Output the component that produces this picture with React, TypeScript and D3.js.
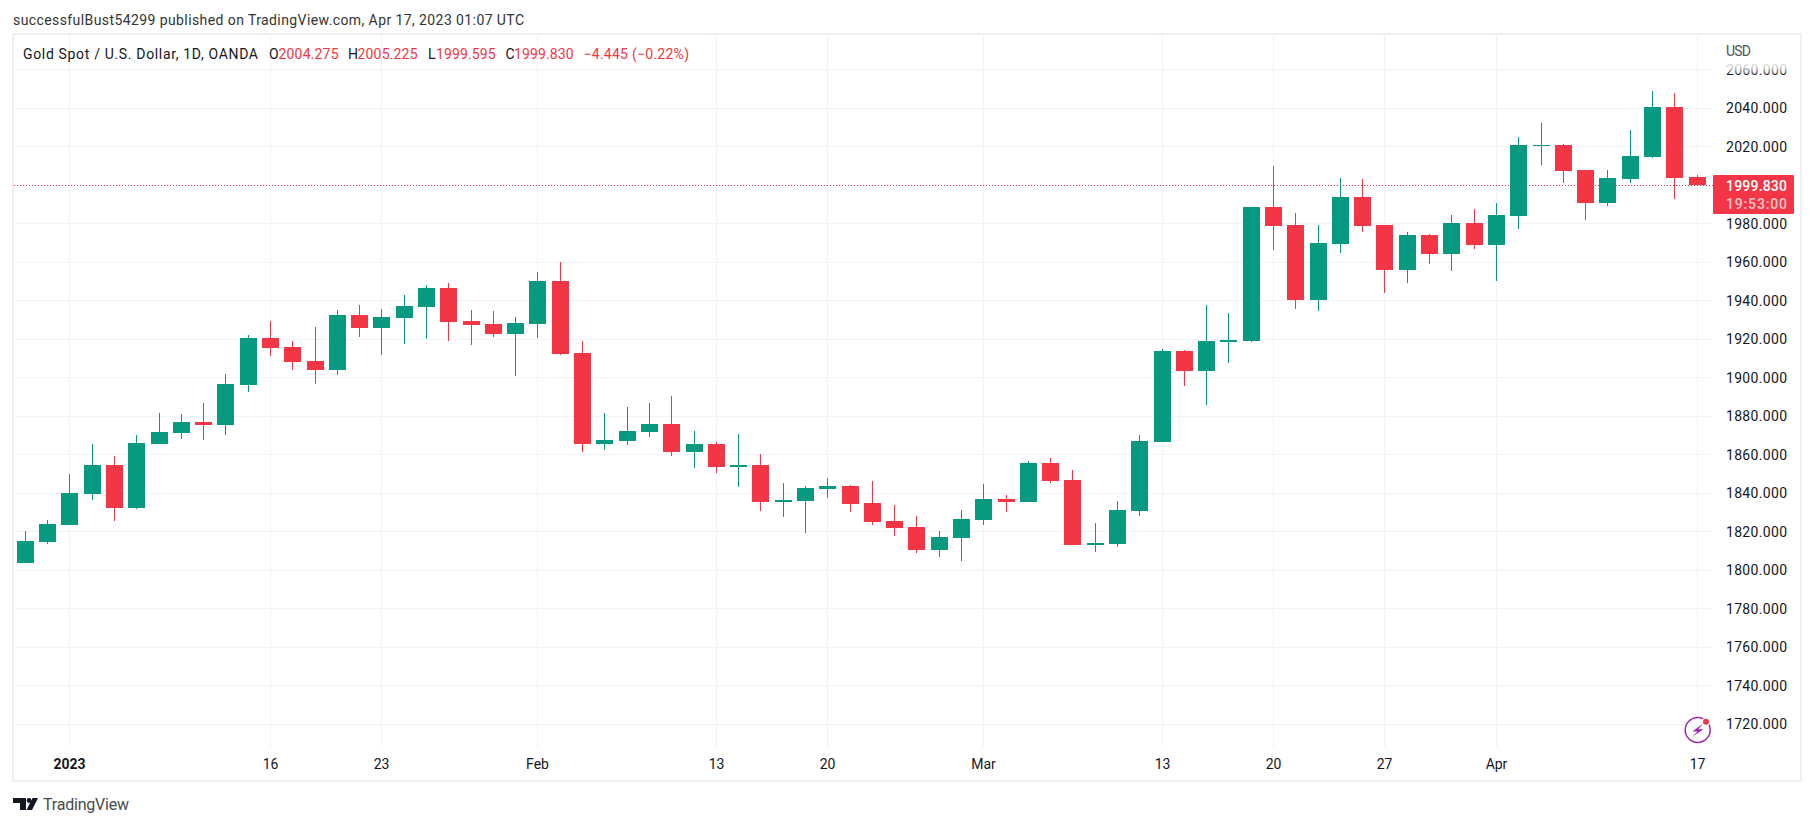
import React from "react";
import * as d3 from "d3";

const opens = [1803.8,1814.7,1823.5,1839.6,1854.7,1832.3,1865.6,1871.3,1877,1875.4,1896.2,1920.6,1915.9,1908.7,1904,1932.5,1925.8,1931,1936.7,1946.6,1929.4,1927.9,1922.7,1927.9,1950.2,1912.8,1865.6,1867.1,1871.8,1876,1861.4,1865.6,1853.6,1854.7,1835.5,1836,1842.2,1843.8,1835,1825.6,1822.5,1810.5,1816.7,1826.1,1837,1835.4,1855.7,1846.8,1813.1,1813.6,1830.7,1866.6,1913.8,1903.4,1918.5,1919,1988.6,1979.3,1940.3,1969.4,1993.8,1979.3,1955.9,1974,1964.2,1980.3,1968.9,1984,2020.3,2020.9,2007.9,1990.7,2003.2,2014.6,2040.6,2004.275];
const highs = [1820.4,1826.1,1850,1865.6,1859.3,1870.2,1881.7,1881.1,1886.9,1901.9,1922.2,1929.4,1919,1926.3,1935.1,1937.7,1935.7,1942.9,1948.1,1949.2,1935.2,1934.6,1931.5,1954.9,1960.1,1919,1881.7,1884.8,1886.9,1890.5,1872.3,1866.6,1870.8,1860.4,1845.3,1843.8,1847.9,1844.3,1846.4,1833.9,1828.2,1820.4,1831.3,1844.8,1839,1856.7,1858.3,1852,1824.5,1835.9,1870.2,1914.9,1914.3,1937.7,1933.5,1988.6,2009.9,1985.5,1979.3,2003.7,2003.2,1979.3,1975.6,1974.6,1984.5,1987.6,1990.7,2025,2032.3,2021.4,2007.9,2007.9,2028.6,2048.9,2047.9,2005.225];
const lows = [1803.8,1813.6,1823.5,1836.5,1825.6,1831.8,1865.6,1868.2,1867.6,1870.2,1892.6,1911.3,1904,1896.7,1901.4,1921.1,1911.8,1917.5,1920.1,1919,1917,1921.1,1900.9,1920.6,1911.8,1861.4,1862.5,1865.1,1869.2,1859.3,1853.1,1850.5,1843.3,1830.8,1827.7,1819.4,1837.5,1830.3,1823.5,1817.8,1809,1806.9,1804.8,1823.5,1830.2,1835.4,1845.3,1813.1,1809.4,1812,1828.2,1866.6,1895.6,1885.8,1907.6,1918.5,1966.3,1935.7,1934.6,1964.7,1975.6,1943.9,1949.2,1959,1955.4,1966.8,1950.2,1977.2,2010.5,2001.1,1981.9,1989.2,2001.1,2014.1,1992.8,1999.595];
const closes = [1815.2,1824,1840.1,1854.7,1832.3,1866.1,1871.8,1877,1875.4,1896.7,1920.6,1915.4,1908.1,1904,1932.5,1925.8,1931.5,1937.2,1946.6,1928.9,1927.4,1922.7,1928.4,1950.2,1912.3,1865.6,1867.7,1872.3,1876,1861.4,1865.6,1853.6,1854.7,1835.5,1836.5,1842.7,1843.8,1834.4,1825.1,1822,1810.5,1817.3,1826.6,1837,1835.4,1855.7,1846.3,1813.1,1814.1,1831.3,1867.1,1913.8,1903.4,1919,1919.5,1988.6,1978.7,1940.3,1969.9,1993.8,1978.7,1955.9,1974,1964.2,1980.3,1968.9,1984.5,2020.9,2020.9,2007.4,1990.7,2003.7,2015.1,2040.6,2003.7,1999.83];

const priceTicks = [1720,1740,1760,1780,1800,1820,1840,1860,1880,1900,1920,1940,1960,1980,2000,2020,2040,2060];
const hiddenPriceLabels = [2000];
const timeTickIndex = [2,11,16,23,31,36,43,51,56,61,66,75];
const timeTickLabel = ["2023","16","23","Feb","13","20","Mar","13","20","27","Apr","17"];
const lastPrice = 1999.83;

const UP = "#089981";
const DOWN = "#F23645";
const GRID = "#F0F3FA";
const FRAME = "#EFEFF5";
const FONT = "Roboto, sans-serif";
const TEXT = "#131722";

const x = d3.scaleLinear().domain([0, 75]).range([25.3, 1697.05]);
const y = d3.scaleLinear().domain([1720, 2060]).range([724.2, 69.5]);
const col = (i: number) => Math.floor(x(i)) + 0.5;

const legend: [number, string, string, number][] = [
  [23, "Gold Spot / U.S. Dollar, 1D, OANDA", TEXT, 235],
  [269, "O", TEXT, 9],
  [278.5, "2004.275", DOWN, 60],
  [348, "H", TEXT, 9],
  [357.5, "2005.225", DOWN, 60],
  [428, "L", TEXT, 7.5],
  [436, "1999.595", DOWN, 59.5],
  [505.5, "C", TEXT, 8.5],
  [514, "1999.830", DOWN, 59.5],
  [583.5, "\u22124.445 (\u22120.22%)", DOWN, 105.5],
];

export default function App() {
  return (
    <svg
      width={1813}
      height={826}
      style={{ position: "fixed", left: 0, top: 0, display: "block", background: "#fff" }}
      fontFamily={FONT}
    >
      <defs>
        <linearGradient id="fade" x1="0" y1="0" x2="0" y2="1">
          <stop offset="0" stopColor="#fff" stopOpacity="1" />
          <stop offset="0.6" stopColor="#fff" stopOpacity="0.75" />
          <stop offset="1" stopColor="#fff" stopOpacity="0.15" />
        </linearGradient>
      </defs>
      <text x={13} y={25} fontSize={14} fill="#333" textLength={511}>
        successfulBust54299 published on TradingView.com, Apr 17, 2023 01:07 UTC
      </text>
      <rect x={13} y={34.3} width={1787.5} height={747} fill="none" stroke={FRAME} strokeWidth={2} shapeRendering="crispEdges" />

      <g shapeRendering="crispEdges" stroke={GRID}>
        {priceTicks.map((p) => (
          <line key={p} x1={14} x2={1713} y1={Math.floor(y(p)) + 0.5} y2={Math.floor(y(p)) + 0.5} />
        ))}
        {timeTickIndex.map((i) => (
          <line key={i} x1={col(i)} x2={col(i)} y1={35} y2={747} />
        ))}
      </g>

      <line x1={14} x2={1713} y1={Math.floor(y(lastPrice)) + 0.5} y2={Math.floor(y(lastPrice)) + 0.5} stroke={DOWN} strokeDasharray="1 2" shapeRendering="crispEdges" />

      <g shapeRendering="crispEdges">
        {opens.map((o, i) => {
          const c = closes[i];
          const color = c >= o ? UP : DOWN;
          const top = Math.round(y(Math.max(o, c)));
          const bottom = Math.round(y(Math.min(o, c)));
          return (
            <g key={i} fill={color}>
              <rect x={col(i) - 0.5} width={1} y={Math.round(y(highs[i]))} height={Math.max(0, Math.round(y(lows[i])) - Math.round(y(highs[i])))} />
              <rect x={col(i) - 8.5} width={17} y={top} height={Math.max(1, bottom - top)} />
            </g>
          );
        })}
      </g>

      {legend.map(([lx, t, c, w], i) => (
        <text key={i} x={lx} y={59} fontSize={14} fill={c} textLength={w}>{t}</text>
      ))}

      <g fontSize={14} fill={TEXT} textAnchor="end">
        {priceTicks.filter((p) => !hiddenPriceLabels.includes(p)).map((p) => (
          <text key={p} x={1787} y={y(p) + 5} textLength={61}>{d3.format(".3f")(p)}</text>
        ))}
      </g>
      <rect x={1714} y={58} width={84} height={16} fill="url(#fade)" />
      <text x={1726} y={56} fontSize={14} fill="#50535E" textLength={25}>USD</text>

      <rect x={1713} y={175} width={81} height={39} rx={1} fill={DOWN} />
      <text x={1787} y={191} fontSize={14} fill="#fff" textAnchor="end" textLength={61} fontWeight={500}>1999.830</text>
      <text x={1787} y={209} fontSize={14} fill="#FBC4C9" textAnchor="end" textLength={61} fontWeight={500}>19:53:00</text>

      <g fontSize={14} fill={TEXT} textAnchor="middle">
        {timeTickIndex.map((idx, i) => (
          <text key={idx} x={col(idx)} y={769} fontWeight={timeTickLabel[i] === "2023" ? 700 : 400}>
            {timeTickLabel[i]}
          </text>
        ))}
      </g>

      <g>
        <circle cx={1697.7} cy={730} r={12.5} fill="#fff" stroke="#9C27B0" strokeWidth={1.5} />
        <path d="M1703 723.5 L1692.5 731.5 L1697.5 731.5 L1692 737 L1703.5 729.2 L1698.3 729.2 Z" fill="#9C27B0" />
        <circle cx={1706} cy={721.7} r={4} fill="#fff" />
        <circle cx={1706} cy={721.7} r={3} fill={DOWN} />
      </g>

      <g fill="#131722">
        <path d="M13 798 H26 V810 H20 V803 H13 Z" />
        <circle cx={29} cy={800.5} r={2.4} />
        <path d="M32.5 798 H38 L32 810 H26.5 Z" />
      </g>
      <text x={43} y={810} fontSize={16} fill="#4A4A4F" textLength={86}>TradingView</text>
    </svg>
  );
}
